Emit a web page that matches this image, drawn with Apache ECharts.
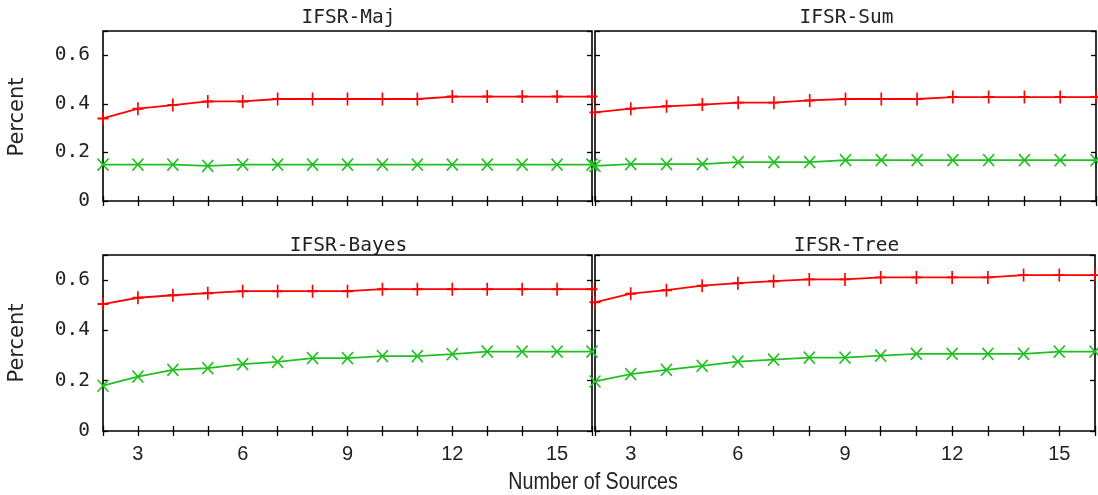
<!DOCTYPE html>
<html><head><meta charset="utf-8">
<script src="https://cdn.jsdelivr.net/npm/echarts@6/dist/echarts.min.js"></script>
<style>html,body{margin:0;padding:0;background:#fff}#c{width:1098px;height:495px}</style>
</head><body><div id="c"></div>
<script>
// ---- data ----
const sources = [2, 3, 4, 5, 6, 7, 8, 9, 10, 11, 12, 13, 14, 15, 16];
const panelTitles = ['IFSR-Maj', 'IFSR-Sum', 'IFSR-Bayes', 'IFSR-Tree'];
const yTickLabels = ['0', '0.2', '0.4', '0.6'];
const xTickLabels = ['3', '6', '9', '12', '15'];
const majRed     = [0.34, 0.38, 0.395, 0.41, 0.41, 0.42, 0.42, 0.42, 0.42, 0.42, 0.43, 0.43, 0.43, 0.43, 0.43];
const majGreen   = [0.15, 0.15, 0.15, 0.145, 0.15, 0.15, 0.15, 0.15, 0.15, 0.15, 0.15, 0.15, 0.15, 0.15, 0.15];
const sumRed     = [0.365, 0.38, 0.39, 0.397, 0.405, 0.405, 0.414, 0.42, 0.42, 0.42, 0.428, 0.428, 0.428, 0.428, 0.428];
const sumGreen   = [0.145, 0.152, 0.152, 0.152, 0.16, 0.16, 0.16, 0.168, 0.168, 0.168, 0.168, 0.168, 0.168, 0.168, 0.168];
const bayesRed   = [0.505, 0.53, 0.54, 0.548, 0.556, 0.556, 0.556, 0.556, 0.564, 0.564, 0.564, 0.564, 0.564, 0.564, 0.564];
const bayesGreen = [0.18, 0.216, 0.243, 0.25, 0.266, 0.275, 0.29, 0.29, 0.298, 0.298, 0.306, 0.316, 0.316, 0.316, 0.316];
const treeRed    = [0.512, 0.546, 0.56, 0.578, 0.588, 0.596, 0.603, 0.603, 0.611, 0.611, 0.611, 0.611, 0.62, 0.62, 0.62];
const treeGreen  = [0.197, 0.226, 0.243, 0.259, 0.276, 0.284, 0.292, 0.292, 0.3, 0.307, 0.307, 0.307, 0.307, 0.316, 0.316];
const redSeries   = [majRed, sumRed, bayesRed, treeRed];
const greenSeries = [majGreen, sumGreen, bayesGreen, treeGreen];

// ---- layout ----
const grids = [
  {left: 103, top: 31, width: 489, height: 170},
  {left: 595, top: 31, width: 501, height: 170},
  {left: 103, top: 255, width: 489, height: 176},
  {left: 595, top: 255, width: 501, height: 176}
];
const RED = '#ff0000', GREEN = '#1fc01f';
const monoFont = '"DejaVu Sans Mono", monospace';
const sansFont = '"Liberation Sans", Arial, sans-serif';

const xAxes = [], yAxes = [], series = [], titles = [];
grids.forEach((g, i) => {
  const isBottom = i >= 2, isLeft = i % 2 === 0;
  const tick = {show: true, inside: true, length: 5, lineStyle: {color: '#000', width: 1.3}};
  xAxes.push({
    type: 'value', gridIndex: i, min: 2, max: 16, interval: 1, position: 'bottom',
    axisLine: {show: false}, axisTick: tick, splitLine: {show: false},
    axisLabel: {
      show: isBottom, margin: 13, fontFamily: sansFont, fontSize: 20, color: '#222',
      formatter: v => xTickLabels.includes(String(v)) ? String(v) : ''
    }
  });
  xAxes.push({
    type: 'value', gridIndex: i, min: 2, max: 16, interval: 1, position: 'top',
    axisLine: {show: false}, axisTick: tick, splitLine: {show: false}, axisLabel: {show: false}
  });
  yAxes.push({
    type: 'value', gridIndex: i, min: 0, max: 0.7, interval: 0.2, position: 'left',
    axisLine: {show: false}, axisTick: tick, splitLine: {show: false},
    axisLabel: {
      show: isLeft, margin: 13, fontFamily: monoFont, fontSize: 19.5, color: '#222',
      formatter: v => { const s = (Math.round(v * 10) / 10).toString(); return yTickLabels.includes(s) ? s : ''; }
    }
  });
  yAxes.push({
    type: 'value', gridIndex: i, min: 0, max: 0.7, interval: 0.2, position: 'right',
    axisLine: {show: false}, axisTick: tick, splitLine: {show: false}, axisLabel: {show: false}
  });
  titles.push({
    text: panelTitles[i], left: g.left + g.width / 2 - 4, top: isBottom ? 231 : 3, textAlign: 'center',
    textStyle: {fontFamily: monoFont, fontSize: 19.5, fontWeight: 'normal', color: '#222'}
  });
  series.push({
    type: 'line', xAxisIndex: i * 2, yAxisIndex: i * 2, z: 3,
    data: sources.map((x, k) => [x, redSeries[i][k]]),
    symbol: 'path://M6,0L6,12M0,6L12,6', symbolSize: [11, 13],
    lineStyle: {color: RED, width: 1.8},
    itemStyle: {color: 'rgba(0,0,0,0)', borderColor: RED, borderWidth: 1.8},
    emphasis: {disabled: true}, animation: false
  });
  series.push({
    type: 'line', xAxisIndex: i * 2, yAxisIndex: i * 2, z: 3,
    data: sources.map((x, k) => [x, greenSeries[i][k]]),
    symbol: 'path://M0,0L12,12M12,0L0,12', symbolSize: [11, 12],
    lineStyle: {color: GREEN, width: 1.8},
    itemStyle: {color: 'rgba(0,0,0,0)', borderColor: GREEN, borderWidth: 1.6},
    emphasis: {disabled: true}, animation: false
  });
});

const chart = echarts.init(document.getElementById('c'));
chart.setOption({
  animation: false,
  backgroundColor: '#fff',
  title: titles,
  grid: grids.map(g => Object.assign({show: true, borderColor: '#000', borderWidth: 1.6, backgroundColor: 'transparent', containLabel: false}, g)),
  xAxis: xAxes,
  yAxis: yAxes,
  series: series,
  graphic: [
    {type: 'text', x: 18, y: 117, rotation: Math.PI / 2, z: 10,
     style: {text: 'Percent', fontFamily: '"DejaVu Sans", sans-serif', fontSize: 21, fill: '#222', align: 'center', verticalAlign: 'middle'}},
    {type: 'text', x: 18, y: 343, rotation: Math.PI / 2, z: 10,
     style: {text: 'Percent', fontFamily: '"DejaVu Sans", sans-serif', fontSize: 21, fill: '#222', align: 'center', verticalAlign: 'middle'}},
    {type: 'text', x: 593, y: 482, z: 10, scaleX: 0.82,
     style: {text: 'Number of Sources', fontFamily: sansFont, fontSize: 24, fill: '#222', align: 'center', verticalAlign: 'middle'}}
  ]
});
</script>
</body></html>
